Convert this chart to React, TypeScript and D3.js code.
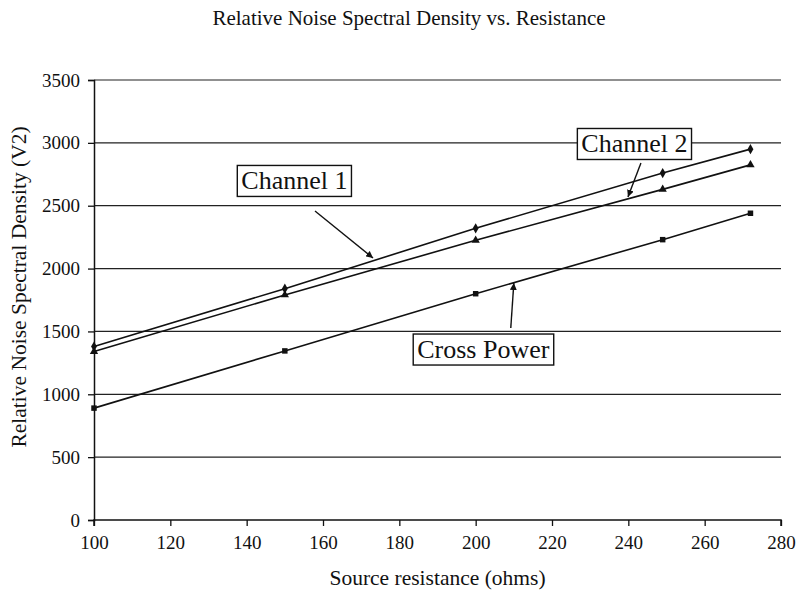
import { useEffect, useRef } from 'react';
import * as d3 from 'd3';

const resistance = [100, 150, 200, 249, 272];
const channel1 = [1380, 1840, 2320, 2760, 2950];
const channel2 = [1340, 1790, 2225, 2630, 2825];
const crossPower = [890, 1345, 1800, 2230, 2440];
const xTicks = [100, 120, 140, 160, 180, 200, 220, 240, 260, 280];
const yTicks = [0, 500, 1000, 1500, 2000, 2500, 3000, 3500];

// callouts: label position and arrow, all in data units
const callouts = [
  { label: 'Channel 1', cx: 152.5, cy: 2697, from: [157.9, 2458], to: [173.1, 2084] },
  { label: 'Channel 2', cx: 241.6, cy: 2991, from: [243.3, 2840], to: [239.9, 2570] },
  { label: 'Cross Power', cx: 202.0, cy: 1356, from: [209.2, 1527], to: [210.0, 1885] },
];

const W = 799;
const H = 595;
const FONT = 'Liberation Serif';

export default function App() {
  const ref = useRef<SVGSVGElement>(null);

  useEffect(() => {
    if (!ref.current) return;
    const svg = d3.select(ref.current);
    svg.selectAll('*').remove();

    const margin = { top: 80, right: 18, bottom: 75, left: 94 };
    const x = d3.scaleLinear().domain([100, 280]).range([margin.left, W - margin.right]);
    const y = d3.scaleLinear().domain([0, 3500]).range([H - margin.bottom, margin.top]);

    svg.append('rect').attr('width', W).attr('height', H).attr('fill', '#fff');

    svg.append('defs').append('marker')
      .attr('id', 'head')
      .attr('viewBox', '0 0 10 10')
      .attr('refX', 10).attr('refY', 5)
      .attr('markerWidth', 7).attr('markerHeight', 7)
      .attr('markerUnits', 'userSpaceOnUse')
      .attr('orient', 'auto')
      .append('path').attr('d', 'M0,0L10,5L0,10z').attr('fill', '#111');

    // grid
    svg.append('g')
      .selectAll('line')
      .data(yTicks.filter(d => d > 0))
      .join('line')
      .attr('x1', x(100)).attr('x2', x(280))
      .attr('y1', d => y(d)).attr('y2', d => y(d))
      .attr('stroke', '#222').attr('stroke-width', 1.2);

    const yAxis = svg.append('g')
      .attr('transform', `translate(${x(100)},0)`)
      .call(d3.axisLeft(y).tickValues(yTicks).tickFormat(d3.format('d')).tickSize(6).tickPadding(8));
    const xAxis = svg.append('g')
      .attr('transform', `translate(0,${y(0)})`)
      .call(d3.axisBottom(x).tickValues(xTicks).tickFormat(d3.format('d')).tickSize(6).tickPadding(10));
    [yAxis, xAxis].forEach(a => {
      a.attr('font-family', FONT).attr('font-size', 19);
      a.select('.domain').attr('stroke', '#111').attr('stroke-width', 1.5);
      a.selectAll('.tick line').attr('stroke', '#111').attr('stroke-width', 1.3);
      a.selectAll('.tick text').attr('fill', '#111');
    });
    xAxis.select('.domain').attr('d', `M${x(100)},6V0H${x(280)}V6`);

    const series = [
      { values: channel1, shape: d3.symbolDiamond },
      { values: channel2, shape: d3.symbolTriangle },
      { values: crossPower, shape: d3.symbolSquare },
    ];
    const line = d3.line<number>()
      .x((_, i) => x(resistance[i]))
      .y(d => y(d));

    series.forEach(s => {
      svg.append('path')
        .attr('d', line(s.values))
        .attr('fill', 'none')
        .attr('stroke', '#111')
        .attr('stroke-width', 1.6);
      svg.append('g')
        .selectAll('path')
        .data(s.values)
        .join('path')
        .attr('transform', (d, i) => `translate(${x(resistance[i])},${y(d)})`)
        .attr('d', d3.symbol(s.shape, 30))
        .attr('fill', '#111');
    });

    callouts.forEach(c => {
      svg.append('line')
        .attr('x1', x(c.from[0])).attr('y1', y(c.from[1]))
        .attr('x2', x(c.to[0])).attr('y2', y(c.to[1]))
        .attr('stroke', '#111').attr('stroke-width', 1.4)
        .attr('marker-end', 'url(#head)');
      const g = svg.append('g');
      const rect = g.append('rect');
      const t = g.append('text')
        .attr('x', x(c.cx)).attr('y', y(c.cy))
        .attr('text-anchor', 'middle')
        .attr('dominant-baseline', 'central')
        .attr('font-family', FONT)
        .attr('font-size', 26)
        .attr('fill', '#111')
        .text(c.label);
      const b = (t.node() as SVGTextElement).getBBox();
      rect.attr('x', b.x - 4).attr('y', b.y - 1)
        .attr('width', b.width + 8).attr('height', b.height + 2)
        .attr('fill', '#fff').attr('stroke', '#111').attr('stroke-width', 1.4);
    });

    svg.append('text')
      .attr('x', 409).attr('y', 25)
      .attr('text-anchor', 'middle')
      .attr('font-family', FONT).attr('font-size', 21)
      .attr('fill', '#111')
      .text('Relative Noise Spectral Density vs. Resistance');

    svg.append('text')
      .attr('x', (x(100) + x(280)) / 2).attr('y', 585)
      .attr('text-anchor', 'middle')
      .attr('font-family', FONT).attr('font-size', 21.5)
      .attr('fill', '#111')
      .text('Source resistance (ohms)');

    svg.append('text')
      .attr('transform', `translate(26,287) rotate(-90)`)
      .attr('text-anchor', 'middle')
      .attr('font-family', FONT).attr('font-size', 21.5)
      .attr('fill', '#111')
      .text('Relative Noise Spectral Density (V2)');
  }, []);

  return (
    <svg ref={ref} width={W} height={H} fontFamily={FONT}
      style={{ position: 'absolute', left: 0, top: 0, display: 'block' }} />
  );
}
